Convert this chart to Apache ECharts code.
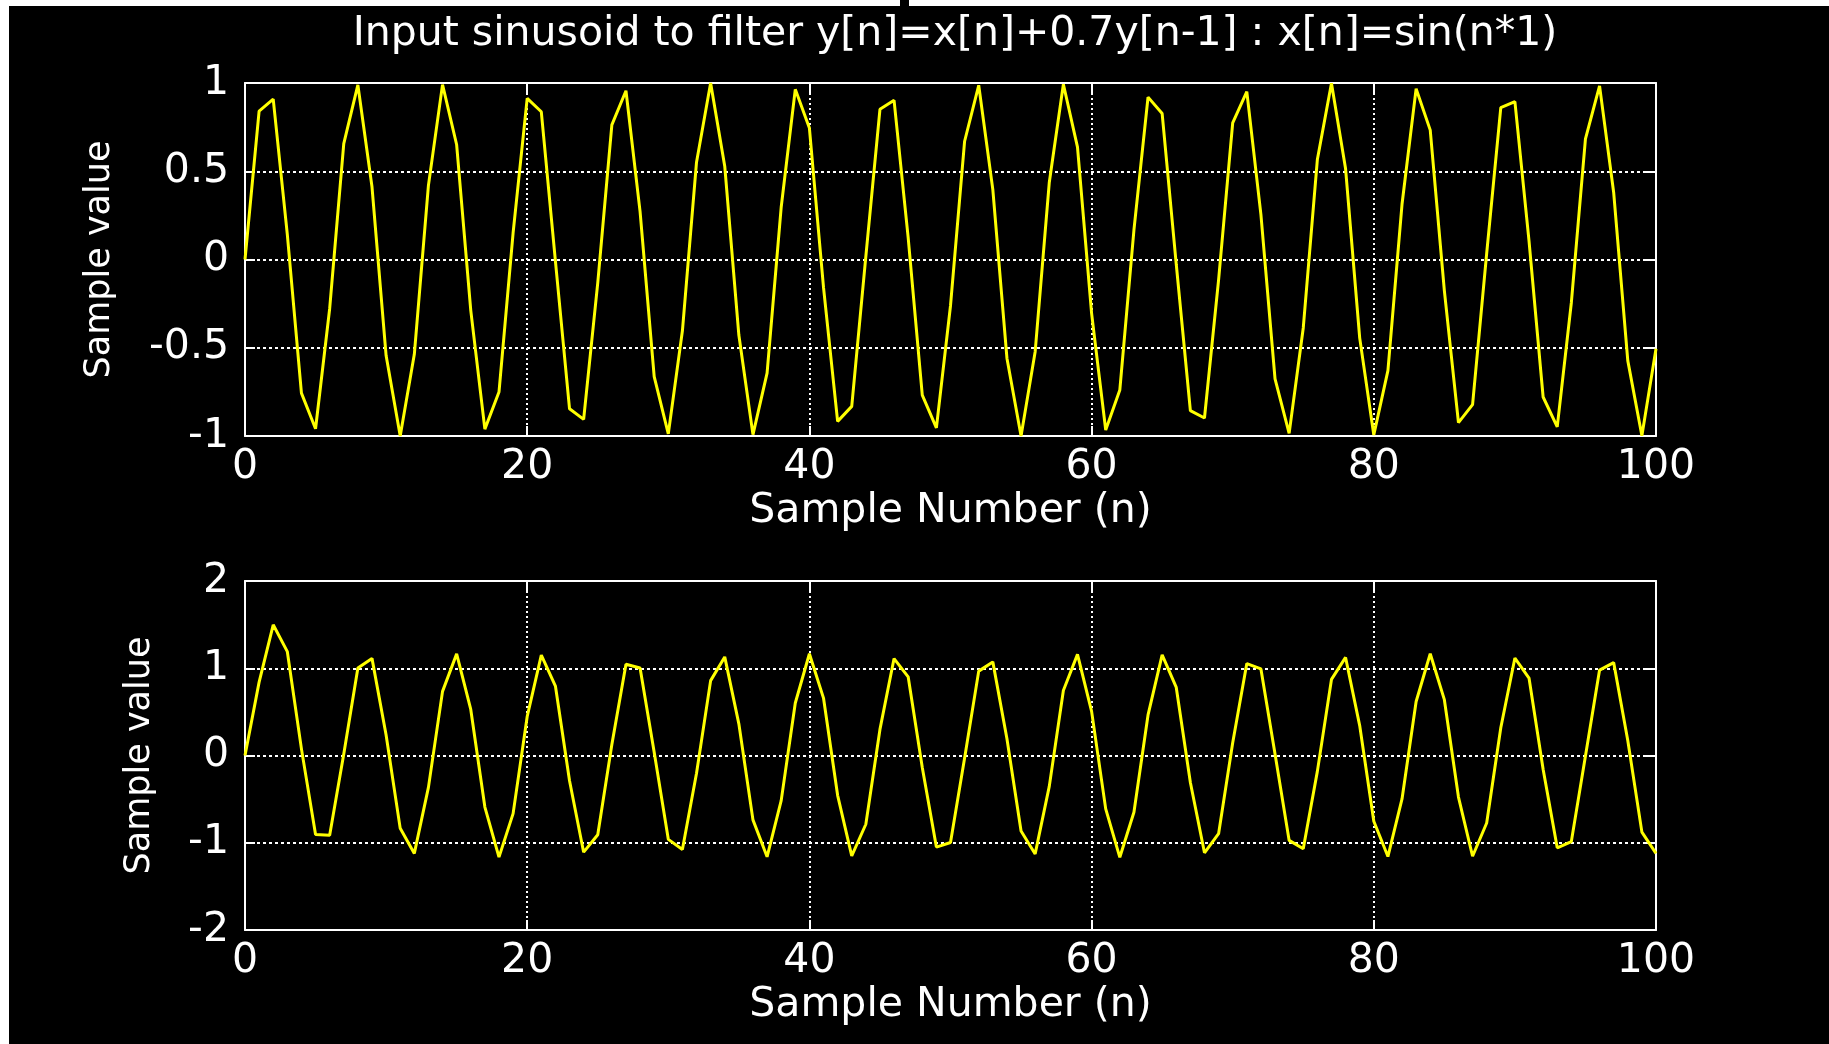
<!DOCTYPE html>
<html>
<head>
<meta charset="utf-8">
<title>Input sinusoid to filter</title>
<script src="https://cdn.jsdelivr.net/npm/echarts@6/dist/echarts.min.js"></script>
<style>
  html, body { margin: 0; padding: 0; background: #000; }
  #chart { width: 1829px; height: 1044px; }
</style>
</head>
<body>
<div id="chart"></div>
<script>
// x[n] = sin(n), n = 0..100
var inputSamples = [
  0.000, 0.841, 0.909, 0.141, -0.757, -0.959, -0.279, 0.657, 0.989, 0.412,
  -0.544, -1.000, -0.537, 0.420, 0.991, 0.650, -0.288, -0.961, -0.751, 0.150,
  0.913, 0.837, -0.009, -0.846, -0.906, -0.132, 0.763, 0.956, 0.271, -0.664,
  -0.988, -0.404, 0.551, 1.000, 0.529, -0.428, -0.992, -0.644, 0.296, 0.964,
  0.745, -0.158, -0.917, -0.832, 0.018, 0.851, 0.902, 0.124, -0.768, -0.954,
  -0.262, 0.670, 0.987, 0.396, -0.559, -1.000, -0.522, 0.436, 0.993, 0.637,
  -0.305, -0.966, -0.739, 0.167, 0.920, 0.827, -0.027, -0.856, -0.898, -0.115,
  0.774, 0.951, 0.254, -0.677, -0.985, -0.388, 0.566, 0.999, 0.514, -0.444,
  -0.994, -0.630, 0.313, 0.968, 0.733, -0.176, -0.924, -0.822, 0.035, 0.860,
  0.894, 0.106, -0.779, -0.948, -0.245, 0.683, 0.984, 0.380, -0.573, -0.999,
  -0.506
]

// y[n] = x[n] + 0.7y[n-1]
var outputSamples = [
  0.000, 0.841, 1.498, 1.190, 0.076, -0.906, -0.913, 0.018, 1.002, 1.113,
  0.235, -0.835, -1.122, -0.365, 0.735, 1.165, 0.528, -0.591, -1.165, -0.666,
  0.447, 1.150, 0.796, -0.289, -1.108, -0.908, 0.127, 1.045, 1.003, 0.038,
  -0.961, -1.077, -0.203, 0.858, 1.130, 0.363, -0.738, -1.161, -0.517, 0.602,
  1.166, 0.658, -0.456, -1.151, -0.788, 0.299, 1.111, 0.902, -0.137, -1.050,
  -0.997, -0.028, 0.967, 1.073, 0.192, -0.866, -1.128, -0.354, 0.745, 1.159,
  0.506, -0.612, -1.167, -0.650, 0.465, 1.153, 0.780, -0.310, -1.115, -0.896,
  0.147, 1.054, 0.992, 0.017, -0.973, -1.069, -0.182, 0.872, 1.124, 0.343,
  -0.754, -1.158, -0.498, 0.619, 1.166, 0.640, -0.476, -1.155, -0.774, 0.318,
  1.117, 0.888, -0.157, -1.058, -0.986, -0.007, 0.979, 1.065, 0.173, -0.878,
  -1.121
]

var xTicks = [0, 20, 40, 60, 80, 100]
var yTicksTop = [-1, -0.5, 0, 0.5, 1]
var yTicksBottom = [-2, -1, 0, 1, 2]

var titleText = 'Input sinusoid to filter y[n]=x[n]+0.7y[n-1] : x[n]=sin(n*1)'
var xName = 'Sample Number (n)'
var yName = 'Sample value'

var FONT = 'DejaVu Sans'
var WHITE = '#ffffff'

function pairs(arr) {
  return arr.map(function (v, n) { return [n, v] })
}

function xAxisFor(gridIndex, isTop) {
  return {
    type: 'value',
    gridIndex: gridIndex,
    position: isTop ? 'top' : 'bottom',
    min: xTicks[0],
    max: xTicks[xTicks.length - 1],
    interval: xTicks[1] - xTicks[0],
    axisLine: { show: true, onZero: false, lineStyle: { color: WHITE, width: 2 } },
    axisTick: { show: true, inside: true, length: 10, lineStyle: { color: WHITE, width: 2 } },
    axisLabel: {
      show: !isTop, color: WHITE, fontFamily: FONT, fontSize: 41, margin: 11
    },
    splitLine: {
      show: !isTop,
      lineStyle: { color: WHITE, width: 2, type: [2, 3] }
    },
    name: isTop ? '' : xName,
    nameLocation: 'middle',
    nameGap: 55,
    nameTextStyle: { color: WHITE, fontFamily: FONT, fontSize: 41 }
  }
}

function yAxisFor(gridIndex, ticks, isRight, gap) {
  return {
    type: 'value',
    gridIndex: gridIndex,
    position: isRight ? 'right' : 'left',
    min: ticks[0],
    max: ticks[ticks.length - 1],
    interval: ticks[1] - ticks[0],
    axisLine: { show: true, onZero: false, lineStyle: { color: WHITE, width: 2 } },
    axisTick: { show: true, inside: true, length: 10, lineStyle: { color: WHITE, width: 2 } },
    axisLabel: {
      show: !isRight, color: WHITE, fontFamily: FONT, fontSize: 41, margin: 16
    },
    splitLine: {
      show: !isRight,
      lineStyle: { color: WHITE, width: 2, type: [3, 3] }
    },
    name: isRight ? '' : yName,
    nameLocation: 'middle',
    nameRotate: 90,
    nameGap: gap,
    nameTextStyle: { color: WHITE, fontFamily: FONT, fontSize: 35 }
  }
}

var chart = echarts.init(document.getElementById('chart'))

chart.setOption({
  backgroundColor: '#000000',
  animation: false,
  title: {
    text: titleText,
    left: 950,
    top: 9,
    textAlign: 'center',
    textStyle: { color: WHITE, fontFamily: FONT, fontSize: 41, fontWeight: 'normal' }
  },
  // white strips along the top and left edge of the captured figure
  graphic: [
    { type: 'rect', shape: { x: 0, y: 0, width: 900, height: 6 }, style: { fill: WHITE } },
    { type: 'rect', shape: { x: 909, y: 0, width: 920, height: 6 }, style: { fill: WHITE } },
    { type: 'rect', shape: { x: 0, y: 0, width: 9, height: 1044 }, style: { fill: WHITE } }
  ],
  grid: [
    { left: 245, right: 173, top: 83, height: 353 },
    { left: 245, right: 173, top: 581, height: 349 }
  ],
  xAxis: [
    xAxisFor(0, false),
    xAxisFor(0, true),
    xAxisFor(1, false),
    xAxisFor(1, true)
  ],
  yAxis: [
    yAxisFor(0, yTicksTop, false, 128),
    yAxisFor(0, yTicksTop, true, 0),
    yAxisFor(1, yTicksBottom, false, 88),
    yAxisFor(1, yTicksBottom, true, 0)
  ],
  series: [
    {
      name: 'x[n]',
      type: 'line',
      xAxisIndex: 0,
      yAxisIndex: 0,
      data: pairs(inputSamples),
      showSymbol: false,
      symbol: 'none',
      lineStyle: { color: '#ffff00', width: 3 },
      z: 3
    },
    {
      name: 'y[n]',
      type: 'line',
      xAxisIndex: 2,
      yAxisIndex: 2,
      data: pairs(outputSamples),
      showSymbol: false,
      symbol: 'none',
      lineStyle: { color: '#ffff00', width: 3 },
      z: 3
    }
  ]
})
</script>
</body>
</html>
